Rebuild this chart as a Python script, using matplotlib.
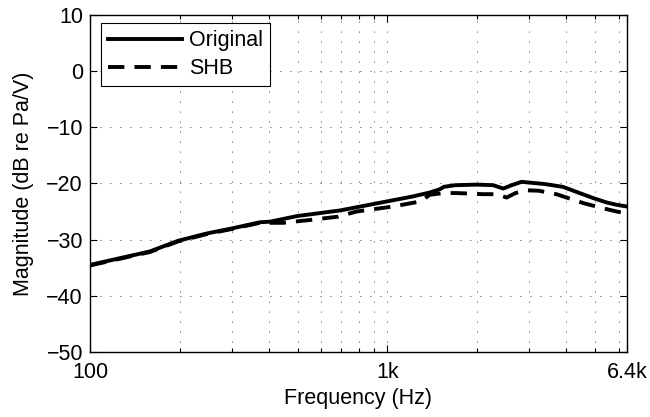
import numpy as np
import matplotlib
matplotlib.use("Agg")
import matplotlib.pyplot as plt
from matplotlib.ticker import FixedLocator, NullFormatter

plt.rcParams['font.family'] = ['Liberation Sans', 'DejaVu Sans']

# Frequencies (Hz) and magnitudes (dB re Pa/V)
freq_orig = [100, 126, 159, 198, 247, 300, 373, 403, 497, 693, 995, 1220, 1390,
             1506, 1547, 1690, 2000, 2270, 2455, 2620, 2830, 3020, 3390, 3900,
             4330, 4930, 5480, 5920, 6400]
mag_orig = [-34.5, -33.3, -32.1, -30.2, -28.9, -28.0, -26.9, -26.8, -25.8, -24.8,
            -23.2, -22.3, -21.6, -21.0, -20.6, -20.3, -20.2, -20.3, -20.9, -20.3,
            -19.7, -19.85, -20.1, -20.6, -21.5, -22.6, -23.4, -23.8, -24.1]

freq_shb = [100, 126, 159, 198, 247, 300, 373, 446, 549, 683, 786, 1044, 1290,
            1390, 1547, 1710, 2100, 2330, 2520, 2700, 2950, 3240, 3700, 4010,
            4570, 5050, 5600, 5920, 6400]
mag_shb = [-34.6, -33.4, -32.2, -30.3, -29.0, -28.1, -27.0, -27.0, -26.5, -25.9,
           -25.0, -24.1, -23.2, -22.0, -21.7, -21.7, -21.9, -21.9, -22.5, -21.7,
           -21.2, -21.3, -21.9, -22.5, -23.5, -24.1, -24.7, -25.0, -25.3]

xtick_vals = [100, 1000, 6400]
xtick_labels = ['100', '1k', '6.4k']
xminor_vals = [200, 300, 400, 500, 600, 700, 800, 900,
               2000, 3000, 4000, 5000, 6000]
ytick_vals = [-50, -40, -30, -20, -10, 0, 10]

FS = 15.5

fig = plt.figure(figsize=(6.5, 4.17), dpi=100)
ax = fig.add_axes([90/650, 1 - 352/417, 537/650, 337/417])

ax.plot(freq_orig, mag_orig, color='black', lw=2.8, linestyle='-', label='Original')
ax.plot(freq_shb, mag_shb, color='black', lw=2.8, linestyle=(0, (4.2, 2.6)), label='SHB')

ax.set_xscale('log')
ax.set_xlim(100, 6400)
ax.set_ylim(-50, 10)
ax.xaxis.set_major_locator(FixedLocator(xtick_vals))
ax.set_xticklabels(xtick_labels)
ax.xaxis.set_minor_locator(FixedLocator(xminor_vals))
ax.xaxis.set_minor_formatter(NullFormatter())
ax.set_yticks(ytick_vals)
ax.set_yticklabels([str(v).replace('-', '\u2212') for v in ytick_vals])

grid_style = dict(color='black', linestyle=(0, (1, 11)), linewidth=0.6)
ax.grid(True, which='major', axis='both', **grid_style)
ax.grid(True, which='minor', axis='x', **grid_style)

ax.tick_params(which='both', direction='in', top=True, right=True,
               labelsize=FS, width=0.8, colors='black')
ax.tick_params(which='major', length=5)
ax.tick_params(which='minor', length=3)
ax.tick_params(axis='x', which='major', pad=7)
ax.tick_params(axis='y', which='major', pad=5)
for s in ax.spines.values():
    s.set_linewidth(1.0)

ax.set_xlabel('Frequency (Hz)', fontsize=FS, labelpad=4)
ax.set_ylabel('Magnitude (dB re Pa/V)', fontsize=FS, labelpad=9)

leg = ax.legend(loc='upper left', bbox_to_anchor=(0.02, 0.975), borderaxespad=0,
                fontsize=FS, frameon=True, fancybox=False,
                edgecolor='black', framealpha=1, handlelength=3.45,
                handletextpad=0.35, borderpad=0.32, labelspacing=0.33)
leg.get_frame().set_linewidth(0.8)

fig.savefig('out.png', dpi=100)
